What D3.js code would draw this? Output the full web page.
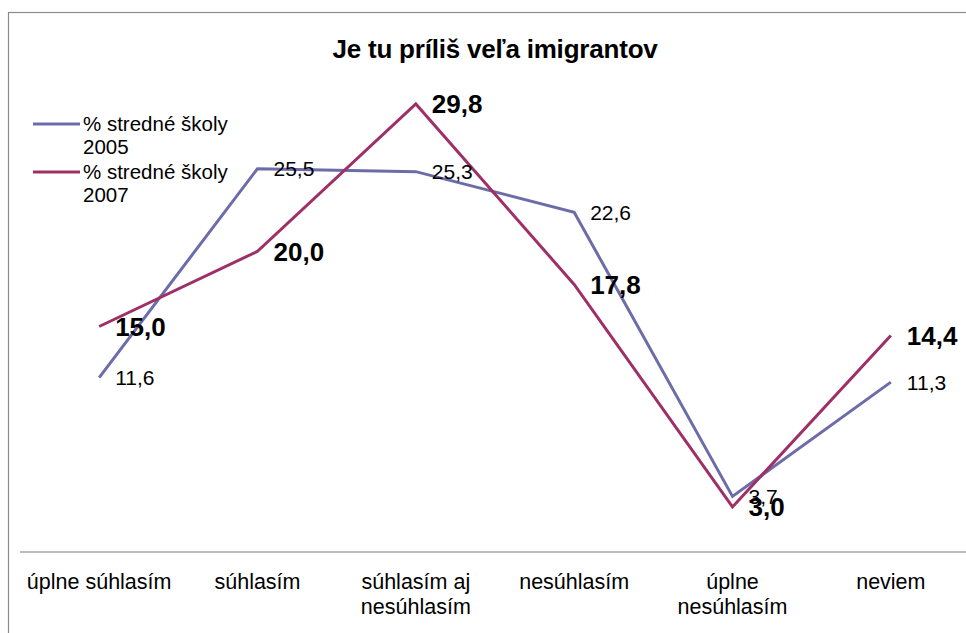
<!DOCTYPE html>
<html>
<head>
<meta charset="utf-8">
<script src="https://cdn.jsdelivr.net/npm/d3@7"></script>
<style>
  body { margin: 0; background: #ffffff; }
  svg { display: block; font-family: "Liberation Sans", Arial, sans-serif; }
</style>
</head>
<body>
<div id="chart"></div>
<script>
// chart data
var categories = ["úplne súhlasím", "súhlasím", "súhlasím aj nesúhlasím", "nesúhlasím", "úplne nesúhlasím", "neviem"];
var categoryLines = [["úplne súhlasím"], ["súhlasím"], ["súhlasím aj", "nesúhlasím"], ["nesúhlasím"], ["úplne", "nesúhlasím"], ["neviem"]];
var values2005 = [11.6, 25.5, 25.3, 22.6, 3.7, 11.3];
var values2007 = [15.0, 20.0, 29.8, 17.8, 3.0, 14.4];
var seriesNames = [["% stredné školy", "2005"], ["% stredné školy", "2007"]];
var chartTitle = "Je tu príliš veľa imigrantov";

var svgWidth = 966;
var svgHeight = 633;

var svg = d3.select("#chart")
    .append("svg")
    .attr("width", svgWidth)
    .attr("height", svgHeight);

// outer chart frame (runs off the right and bottom edge)
svg.append("rect")
    .attr("x", 8.5)
    .attr("y", 12.5)
    .attr("width", 1000)
    .attr("height", 700)
    .attr("fill", "none")
    .attr("stroke", "#8c8c8c")
    .attr("stroke-width", 1.2);

// scales
var xScale = d3.scalePoint()
    .domain(categories)
    .range([20, 970])
    .padding(0.5);

var yScale = d3.scaleLinear()
    .domain([0, 30])
    .range([552, 101]);

// category axis line
svg.append("line")
    .attr("x1", 20)
    .attr("x2", svgWidth)
    .attr("y1", yScale(0))
    .attr("y2", yScale(0))
    .attr("stroke", "#a6a6a6")
    .attr("stroke-width", 1.5);

// category labels
var catGroup = svg.append("g");
categories.forEach(function(c, i) {
    var t = catGroup.append("text")
        .attr("x", xScale(c))
        .attr("y", 589)
        .attr("text-anchor", "middle")
        .attr("font-size", "21.5px")
        .attr("fill", "#000");
    categoryLines[i].forEach(function(line, j) {
        t.append("tspan")
            .attr("x", xScale(c))
            .attr("dy", j === 0 ? 0 : 25)
            .text(line);
    });
});

// title
svg.append("text")
    .attr("x", 495)
    .attr("y", 58)
    .attr("text-anchor", "middle")
    .attr("font-size", "26px")
    .attr("font-weight", "bold")
    .attr("letter-spacing", "-0.2px")
    .text(chartTitle);

var line = d3.line()
    .x(function(d, i) { return xScale(categories[i]); })
    .y(function(d) { return yScale(d); });

var series = [
    { values: values2005, color: "#6c6ca9", bold: false },
    { values: values2007, color: "#9e3067", bold: true }
];

series.forEach(function(s) {
    svg.append("path")
        .datum(s.values)
        .attr("fill", "none")
        .attr("stroke", s.color)
        .attr("stroke-width", 3)
        .attr("stroke-linejoin", "miter")
        .attr("d", line);
});

// data labels
series.forEach(function(s) {
    svg.append("g").selectAll("text")
        .data(s.values)
        .enter()
        .append("text")
        .attr("x", function(d, i) { return xScale(categories[i]) + 16; })
        .attr("y", function(d) { return yScale(d); })
        .attr("dy", "0.36em")
        .attr("font-size", s.bold ? "26px" : "21px")
        .attr("font-weight", s.bold ? "bold" : "normal")
        .attr("fill", "#000")
        .text(function(d) { return d.toFixed(1).replace(".", ","); });
});

// legend
var legend = svg.append("g");
series.forEach(function(s, i) {
    var ly = 124 + i * 48;
    legend.append("line")
        .attr("x1", 33)
        .attr("x2", 80)
        .attr("y1", ly)
        .attr("y2", ly)
        .attr("stroke", s.color)
        .attr("stroke-width", 3);
    var t = legend.append("text")
        .attr("x", 83)
        .attr("y", ly + 7)
        .attr("font-size", "20.5px")
        .attr("fill", "#000");
    seriesNames[i].forEach(function(nameLine, j) {
        t.append("tspan")
            .attr("x", 83)
            .attr("dy", j === 0 ? 0 : 23)
            .text(nameLine);
    });
});
</script>
</body>
</html>
